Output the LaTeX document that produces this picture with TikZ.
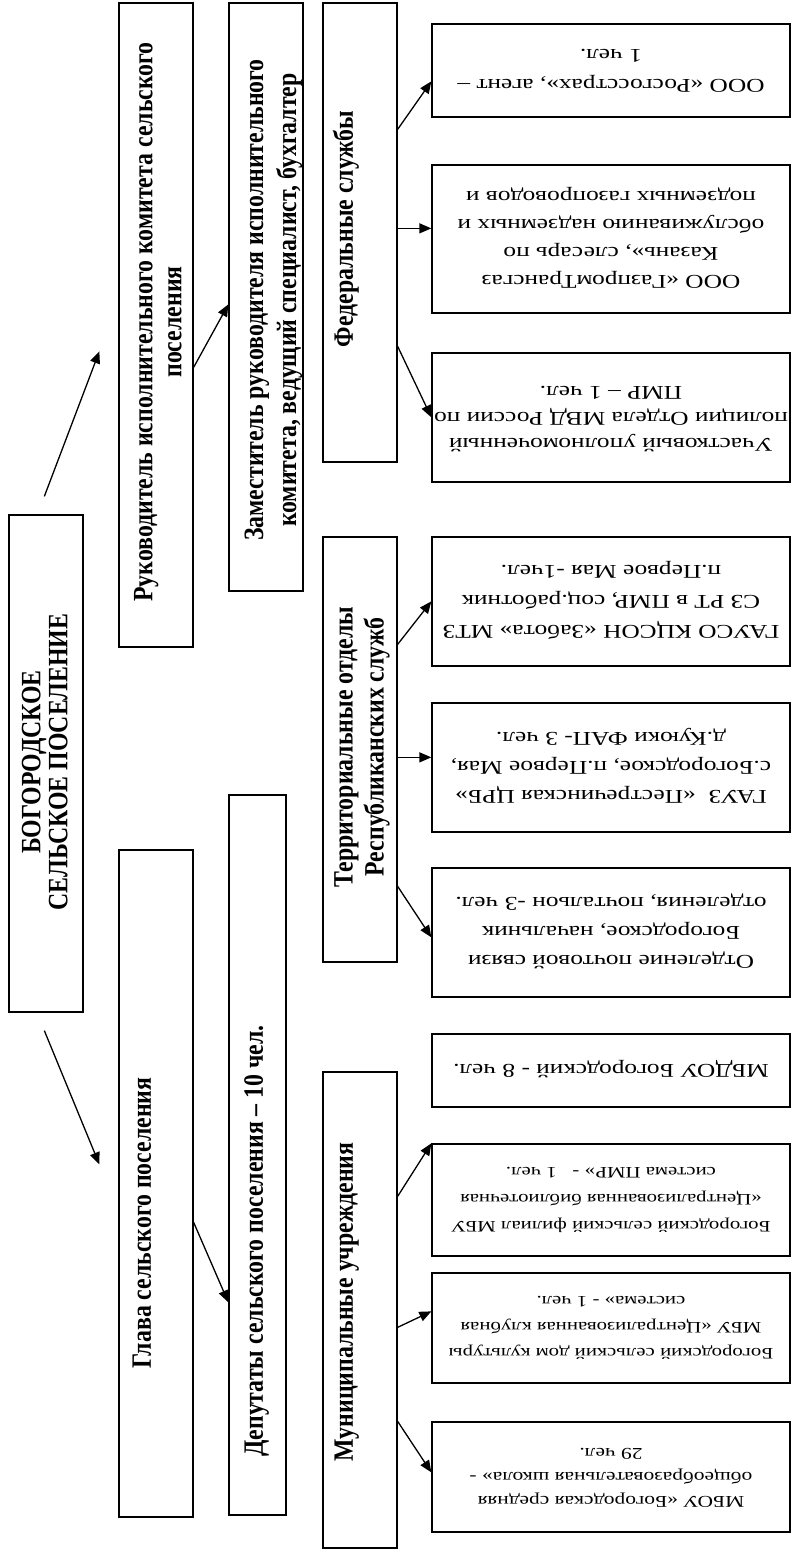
\documentclass[tikz,border=0pt]{standalone}
\usepackage{fontspec}
\setmainfont{Liberation Serif}
\usetikzlibrary{arrows.meta,calc}
\newcommand{\RtTxt}[3]{\rotatebox{180}{\scalebox{1.3}[1]{\fontsize{#1}{#2}\selectfont\begin{tabular}{@{}c@{}}#3\end{tabular}}}}
\newcommand{\LfTxt}[2]{\rotatebox{90}{\scalebox{0.85}[1]{\fontsize{28}{#1}\selectfont\bfseries\begin{tabular}{@{}c@{}}#2\end{tabular}}}}
\begin{document}
\begin{tikzpicture}[x=1pt,y=-1pt,
  box/.style={draw=black,line width=1.3pt,rectangle,inner sep=0pt,fill=white},
  rbox/.style={box,minimum width=358pt},
  lbl/.style={inner sep=0pt},
  arr/.style={draw=black,line width=1.3pt,-{Triangle[length=12pt,width=10pt]}}]
\useasboundingbox (0,0) rectangle (800,1556);
% left boxes
\node[box,minimum width=74pt,minimum height=497pt] (main) at (46,763.5) {};
\node[box,minimum width=74pt,minimum height=644pt] (ruk) at (156,325) {};
\node[box,minimum width=74pt,minimum height=667pt] (glava) at (156,1183.5) {};
\node[box,minimum width=74pt,minimum height=588pt] (zam) at (266,297) {};
\node[box,minimum width=57pt,minimum height=720pt] (dep) at (257.5,1155) {};
\node[box,minimum width=74pt,minimum height=459pt] (fed) at (360,232.5) {};
\node[box,minimum width=74pt,minimum height=425pt] (terr) at (360,749.5) {};
\node[box,minimum width=74pt,minimum height=476pt] (mun) at (360,1310) {};
% left texts
\node[lbl] (tmain) at (48.5,762) {\LfTxt{27}{БОГОРОДСКОЕ\\СЕЛЬСКОЕ ПОСЕЛЕНИЕ}};
\node[lbl] (truk) at (161,322) {\LfTxt{29}{Руководитель исполнительного комитета сельского\\поселения}};
\node[lbl] (tzam) at (273,300) {\LfTxt{33}{Заместитель руководителя исполнительного\\комитета, ведущий специалист, бухгалтер}};
\node[lbl] (tglava) at (145,1223) {\LfTxt{29}{Глава сельского поселения}};
\node[lbl] (tdep) at (257,1241) {\LfTxt{29}{Депутаты сельского поселения – 10 чел.}};
\node[lbl] (tfed) at (347,229) {\LfTxt{29}{Федеральные службы}};
\node[lbl] (tterr) at (362,747) {\LfTxt{31}{Территориальные отделы\\Республиканских служб}};
\node[lbl] (tmun) at (347,1302) {\LfTxt{29}{Муниципальные учреждения}};
% right boxes
\node[rbox,minimum height=93pt] (r1) at (611,70.5) {\RtTxt{19.5}{30}{ООО «Росгосстрах», агент –\\1 чел.}};
\node[rbox,minimum height=148pt] (r2) at (611,239) {\RtTxt{19.5}{28}{ООО «ГазпромТрансгаз\\Казань», слесарь по\\обслуживанию надземных и\\подземных газопроводов и}};
\node[rbox,minimum height=129pt] (r3) at (611,417.5) {\raisebox{-8pt}{\RtTxt{19.5}{26}{Участковый уполномоченный\\полиции Отдела МВД России по\\ПМР – 1 чел.}}};
\node[rbox,minimum height=129pt] (r4) at (611,601.5) {\RtTxt{19.5}{30}{ГАУСО КЦСОН «Забота» МТЗ\\СЗ РТ в ПМР, соц.работник\\п.Первое Мая -1чел.}};
\node[rbox,minimum height=129pt] (r5) at (611,767.5) {\RtTxt{19.5}{29}{ГАУЗ~ «Пестречинская ЦРБ»\\с.Богородское, п.Первое Мая,\\д.Куюки ФАП- 3 чел.}};
\node[rbox,minimum height=129pt] (r6) at (611,932.5) {\RtTxt{19.5}{29}{Отделение почтовой связи\\Богородское, начальник\\отделения, почтальон -3 чел.}};
\node[rbox,minimum height=73pt] (r7) at (611,1070.5) {\RtTxt{19.5}{28}{МБДОУ Богородский - 8 чел.}};
\node[rbox,minimum height=112pt] (r8) at (611,1200) {\RtTxt{16}{27}{Богородский сельский филиал МБУ\\«Централизованная библиотечная\\система ПМР» -\ \ \ 1 чел.}};
\node[rbox,minimum height=110pt] (r9) at (611,1328) {\RtTxt{16}{26}{Богородский сельский дом культуры\\МБУ «Централизованная клубная\\система» - 1 чел.}};
\node[rbox,minimum height=110pt] (r10) at (611,1477) {\RtTxt{16.5}{24}{МБОУ «Богородская средняя\\общеобразовательная школа» -\\29 чел.}};
% free arrow ends
\coordinate (a1s) at ($(main.north west)+(36,-18)$);
\coordinate (a1e) at ($(ruk.north west)+(-19,349)$);
\coordinate (a2s) at ($(main.south west)+(36,18)$);
\coordinate (a2e) at ($(glava.north west)+(-19,315)$);
% arrows
\draw[arr] (a1s) -- (a1e);
\draw[arr] (a2s) -- (a2e);
\draw[arr] ($(ruk.north east)+(0,365)$) -- ($(zam.north west)+(0,302)$);
\draw[arr] ($(glava.north east)+(0,373)$) -- ($(dep.north west)+(0,508)$);
\draw[arr] ($(fed.north east)+(0,127)$) -- ($(r1.north west)+(0,58)$);
\draw[arr] ($(fed.north east)+(0,226)$) -- ($(r2.north west)+(0,64)$);
\draw[arr] ($(fed.north east)+(0,344)$) -- ($(r3.north west)+(0,65)$);
\draw[arr] ($(terr.north east)+(0,108)$) -- ($(r4.north west)+(0,65)$);
\draw[arr] ($(terr.north east)+(0,221)$) -- ($(r5.north west)+(0,55)$);
\draw[arr] ($(terr.north east)+(0,350)$) -- ($(r6.north west)+(0,70)$);
\draw[arr] ($(mun.north east)+(0,125)$) -- ($(r8.north west)+(0,0)$);
\draw[arr] ($(mun.north east)+(0,256)$) -- ($(r9.north west)+(0,39)$);
\draw[arr] ($(mun.north east)+(0,350)$) -- ($(r10.north west)+(0,51)$);
\end{tikzpicture}
\end{document}
